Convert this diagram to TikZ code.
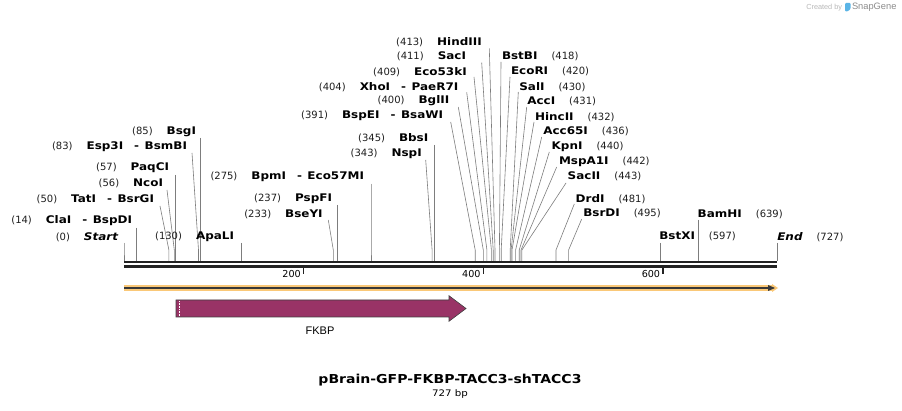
\documentclass[tikz,border=0pt]{standalone}
\usepackage{fontspec}
\usepackage{graphicx}
\setmainfont{DejaVu Sans}
\newfontfamily\libfont{Liberation Sans}
\definecolor{sitegray}{RGB}{125,125,125}
\definecolor{fkbp}{RGB}{153,51,102}
\definecolor{bandorange}{RGB}{250,200,120}
\definecolor{seqdark}{RGB}{34,34,34}
\definecolor{numgray}{RGB}{30,30,30}
\definecolor{sgblue}{RGB}{90,180,230}
\newcommand{\hs}[1]{\scalebox{1.14}[1]{#1}}
\newcommand{\nm}[1]{{\fontsize{10}{11}\selectfont\color{numgray}#1}}
\newcommand{\en}[1]{\hs{\fontsize{10.5}{12}\selectfont\bfseries #1}}
\newcommand{\gp}{\hspace{14pt}}
\newcommand{\dsh}{\hspace{11pt}\en{-}\hspace{5.5pt}}
\newcommand{\cut}[4]{%
  \coordinate (#1t) at (#2,#3);
  \coordinate (#1k) at (#4,250);
  \coordinate (#1s) at (#4,261);
  \draw[site] (#1t) -- (#1k) -- (#1s);}
\begin{document}
\begin{tikzpicture}[x=1pt,y=-1pt,
  lab/.style={inner sep=0pt,outer sep=0pt},
  site/.style={draw=sitegray,line width=0.6pt},
  tickmark/.style={draw=seqdark,line width=1.6pt},
  ticklab/.style={inner sep=0pt,anchor=east,font=\fontsize{9.6}{10}\selectfont}]
\useasboundingbox (0,0) rectangle (902,411);
\fill[white] (0,0) rectangle (902,411);

% sequence backbone
\draw[seqdark,line width=2.6pt] (124,262) -- (777,262);
\draw[seqdark,line width=2.2pt] (124,266.5) -- (777,266.5);

% ticks
\draw[tickmark] (303.6,267) -- (303.6,274);
\draw[tickmark] (483.3,267) -- (483.3,274);
\draw[tickmark] (662.9,267) -- (662.9,274);
\node[ticklab] (t200) at (301,274.5) {200};
\node[ticklab] (t400) at (480.7,274.5) {400};
\node[ticklab] (t600) at (660.3,274.5) {600};

% cut sites: lines
\cut{start}{124}{243}{124}
\cut{cla}{136.6}{228}{136.6}
\cut{tat}{160}{206}{168.9}
\cut{nco}{167}{190}{174.3}
\cut{paq}{175.2}{175}{175.2}
\cut{esp}{192}{153}{198.5}
\cut{bsg}{200.3}{138}{200.3}
\cut{apa}{240.8}{243}{240.8}
\cut{bse}{328.3}{220}{333.3}
\cut{psp}{336.9}{205}{336.9}
\cut{bpm}{371}{184}{371}
\cut{nsp}{425.7}{160}{432.1}
\cut{bbs}{433.9}{145}{433.9}
\cut{bspe}{450.7}{122}{475.2}
\cut{bgl}{458.3}{107}{483.3}
\cut{xho}{466.7}{92.3}{486.9}
\cut{ecok}{474}{77}{491.4}
\cut{sac}{481.7}{62.7}{493.2}
\cut{hind}{489.3}{48.3}{495}
\cut{bstb}{501}{62}{499.4}
\cut{ecor}{510}{77}{501.2}
\cut{sal}{518.3}{92}{510.2}
\cut{acc}{526.7}{107}{511.1}
\cut{hinc}{534}{122}{512}
\cut{accs}{541.7}{137}{515.6}
\cut{kpn}{549.3}{152}{519.2}
\cut{msp}{556.7}{167}{521}
\cut{sacii}{566}{183}{521.9}
\cut{drd}{574.3}{204}{556}
\cut{bsrd}{581.7}{219}{568.6}
\cut{bstx}{660.2}{243}{660.2}
\cut{bam}{697.9}{220}{697.9}
\cut{endp}{777}{243}{777}

% left labels
\node[lab,anchor=east] (lstart) at (118,237) {\nm{(0)}\gp\en{\itshape Start}};
\node[lab,anchor=east] (lcla) at (132,221) {\nm{(14)}\gp\en{ClaI}\dsh\en{BspDI}};
\node[lab,anchor=east] (ltat) at (154,199) {\nm{(50)}\gp\en{TatI}\dsh\en{BsrGI}};
\node[lab,anchor=east] (lnco) at (163,183) {\nm{(56)}\gp\en{NcoI}};
\node[lab,anchor=east] (lpaq) at (169,168) {\nm{(57)}\gp\en{PaqCI}};
\node[lab,anchor=east] (lesp) at (187,147) {\nm{(83)}\gp\en{Esp3I}\dsh\en{BsmBI}};
\node[lab,anchor=east] (lbsg) at (196,132) {\nm{(85)}\gp\en{BsgI}};
\node[lab,anchor=east] (lapa) at (234,237) {\nm{(130)}\gp\en{ApaLI}};
\node[lab,anchor=east] (lbse) at (322.7,214) {\nm{(233)}\gp\en{BseYI}};
\node[lab,anchor=east] (lpsp) at (332,199) {\nm{(237)}\gp\en{PspFI}};
\node[lab,anchor=east] (lbpm) at (364,177) {\nm{(275)}\gp\en{BpmI}\dsh\en{Eco57MI}};
\node[lab,anchor=east] (lnsp) at (421.7,153.3) {\nm{(343)}\gp\en{NspI}};
\node[lab,anchor=east] (lbbs) at (428.3,138.3) {\nm{(345)}\gp\en{BbsI}};
\node[lab,anchor=east] (lbspe) at (443,116) {\nm{(391)}\gp\en{BspEI}\dsh\en{BsaWI}};
\node[lab,anchor=east] (lbgl) at (449.3,101) {\nm{(400)}\gp\en{BglII}};
\node[lab,anchor=east] (lxho) at (458.3,86.7) {\nm{(404)}\gp\en{XhoI}\dsh\en{PaeR7I}};
\node[lab,anchor=east] (lecok) at (466.7,71.7) {\nm{(409)}\gp\en{Eco53kI}};
\node[lab,anchor=east] (lsac) at (466,56.7) {\nm{(411)}\gp\en{SacI}};
\node[lab,anchor=east] (lhind) at (481.7,42.3) {\nm{(413)}\gp\en{HindIII}};

% right labels
\node[lab,anchor=west] (lbstb) at (502,56.7) {\en{BstBI}\gp\nm{(418)}};
\node[lab,anchor=west] (lecor) at (511,71.7) {\en{EcoRI}\gp\nm{(420)}};
\node[lab,anchor=west] (lsal) at (519.3,86.7) {\en{SalI}\gp\nm{(430)}};
\node[lab,anchor=west] (lacc) at (527.3,101.7) {\en{AccI}\gp\nm{(431)}};
\node[lab,anchor=west] (lhinc) at (535,116.7) {\en{HincII}\gp\nm{(432)}};
\node[lab,anchor=west] (laccs) at (543.3,131.7) {\en{Acc65I}\gp\nm{(436)}};
\node[lab,anchor=west] (lkpn) at (551.7,146.7) {\en{KpnI}\gp\nm{(440)}};
\node[lab,anchor=west] (lmsp) at (559,161.7) {\en{MspA1I}\gp\nm{(442)}};
\node[lab,anchor=west] (lsacii) at (567.7,176.7) {\en{SacII}\gp\nm{(443)}};
\node[lab,anchor=west] (ldrd) at (575.7,199) {\en{DrdI}\gp\nm{(481)}};
\node[lab,anchor=west] (lbsrd) at (583.3,213.3) {\en{BsrDI}\gp\nm{(495)}};
\node[lab,anchor=west] (lbstx) at (659.3,236.7) {\en{BstXI}\gp\nm{(597)}};
\node[lab,anchor=west] (lbam) at (697.7,214) {\en{BamHI}\gp\nm{(639)}};
\node[lab,anchor=west] (lend) at (777.3,236.7) {\en{\itshape End}\gp\nm{(727)}};

% orange feature band
\draw[bandorange,line width=6pt] (124,288) -- (774,288);
\fill[bandorange] (772,284) -- (778,288) -- (772,292) -- cycle;
\draw[seqdark!90,line width=1.2pt] (124,288) -- (770,288);
\fill[seqdark!90] (768,285) -- (775,288) -- (768,291) -- cycle;

% FKBP feature
\draw[fill=fkbp,draw=black!75,line width=0.6pt]
  (176,300) -- (449,300) -- (449,295.7) -- (466,308.5) -- (449,321.3) -- (449,317) -- (176,317) -- cycle;
\draw[white,line width=0.5pt,dash pattern=on 0.8pt off 0.8pt] (179.5,301) -- (179.5,316);
\node[lab] (fkbplab) at (320,330.5) {\libfont\fontsize{11}{12}\selectfont FKBP};

% title
\node[lab] (title) at (450,380.5) {\hs{\fontsize{12.3}{14}\selectfont\bfseries pBrain-GFP-FKBP-TACC3-shTACC3}};
\node[lab] (size) at (450,394.5) {\hs{\fontsize{9}{10}\selectfont 727 bp}};

% watermark
\node[lab,anchor=east] (created) at (842,7.5) {\libfont\fontsize{7.3}{8}\selectfont\color{black!28}Created by};
\fill[sgblue,rounded corners=1pt] (845,3) -- (850.5,3) -- (850.5,9) -- (847.5,11.5) -- (845,11.5) -- cycle;
\node[lab,anchor=west] (snapgene) at (852,7.5) {\libfont\fontsize{9.3}{10}\selectfont\color{black!45}SnapGene};
\end{tikzpicture}
\end{document}
